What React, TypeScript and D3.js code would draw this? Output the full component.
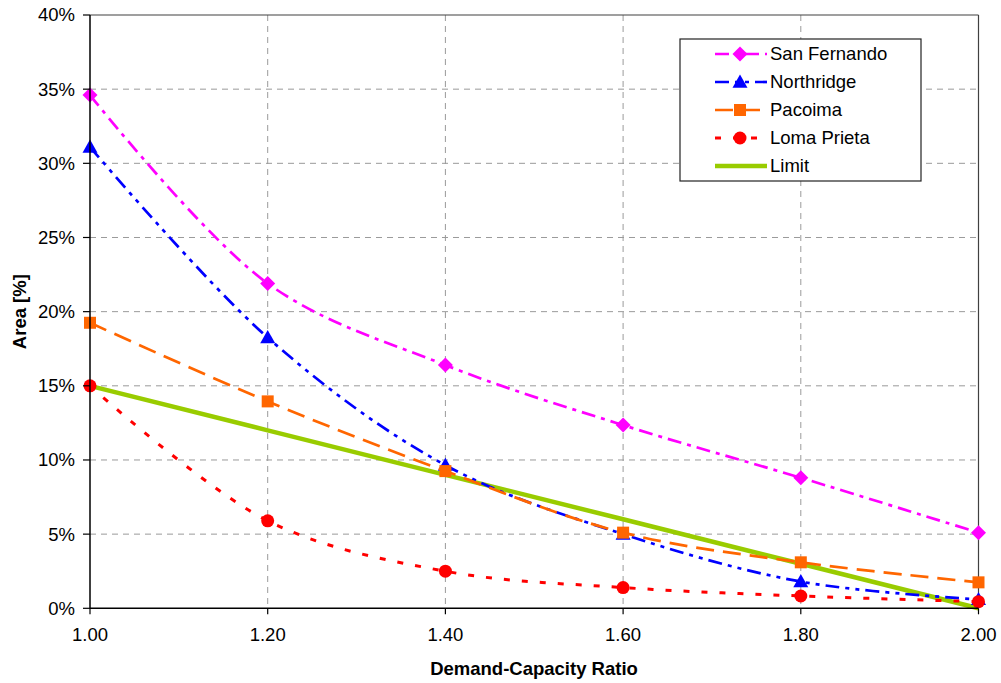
import React from "react";
import * as d3 from "d3";

const categories = [1.0, 1.2, 1.4, 1.6, 1.8, 2.0];
const xTickLabels = ["1.00", "1.20", "1.40", "1.60", "1.80", "2.00"];
const yTicks = [0, 5, 10, 15, 20, 25, 30, 35, 40];

const sanFernando = [34.6, 21.9, 16.4, 12.35, 8.8, 5.1];
const northridge = [31.1, 18.25, 9.65, 5.0, 1.8, 0.6];
const pacoima = [19.25, 13.95, 9.25, 5.1, 3.1, 1.75];
const lomaPrieta = [15.0, 5.9, 2.5, 1.4, 0.83, 0.45];
const limit = [15, 12, 9, 6, 3, 0];

type Marker = "diamond" | "triangle" | "square" | "circle" | "none";
interface Series {
  name: string;
  values: number[];
  color: string;
  dash: string;
  width: number;
  marker: Marker;
  smooth: boolean;
}

const series: Series[] = [
  { name: "San Fernando", values: sanFernando, color: "#FF00FF", dash: "14,6,4,6", width: 2.7, marker: "diamond", smooth: true },
  { name: "Northridge", values: northridge, color: "#0000FF", dash: "14,6,4,6,4,6", width: 2.7, marker: "triangle", smooth: true },
  { name: "Pacoima", values: pacoima, color: "#FF6600", dash: "18,9", width: 2.7, marker: "square", smooth: true },
  { name: "Loma Prieta", values: lomaPrieta, color: "#FF0000", dash: "6,12", width: 3, marker: "circle", smooth: true },
  { name: "Limit", values: limit, color: "#99CC00", dash: "", width: 4.5, marker: "none", smooth: false },
];

const drawOrder = ["Limit", "San Fernando", "Northridge", "Pacoima", "Loma Prieta"];

const W = 1001;
const H = 683;
const left = 90;
const right = 978.5;
const top = 15;
const bottom = 608.3;
const FONT = "Liberation Sans, Arial, sans-serif";
const FS = 18.5;

function MarkerShape({ type, x, y, color }: { type: Marker; x: number; y: number; color: string }) {
  if (type === "diamond") {
    const r = 7.5;
    return <path d={`M${x},${y - r}L${x + r},${y}L${x},${y + r}L${x - r},${y}Z`} fill={color} />;
  }
  if (type === "triangle") {
    const r = 7.5;
    return <path d={`M${x},${y - r}L${x + r},${y + r * 0.75}L${x - r},${y + r * 0.75}Z`} fill={color} />;
  }
  if (type === "square") {
    const s = 12;
    return <rect x={x - s / 2} y={y - s / 2} width={s} height={s} fill={color} />;
  }
  if (type === "circle") {
    return <circle cx={x} cy={y} r={6.5} fill={color} />;
  }
  return null;
}

export default function App() {
  const x = d3.scaleLinear().domain([1.0, 2.0]).range([left, right]);
  const y = d3.scaleLinear().domain([0, 40]).range([bottom, top]);

  const lineFor = (s: Series) =>
    d3
      .line<number>()
      .x((_, i) => x(categories[i]))
      .y((v) => y(v))
      .curve(s.smooth ? d3.curveCatmullRom.alpha(0.5) : d3.curveLinear)(s.values) || "";

  const ordered = drawOrder.map((n) => series.find((s) => s.name === n)!);

  const legendX = 680;
  const legendY = 39;
  const legendW = 241;
  const legendH = 142;
  const rowY = [54, 82, 110, 138, 166];

  return (
    <svg width={W} height={H} style={{ display: "block", position: "absolute", left: 0, top: 0 }} fontFamily={FONT}>
      <rect x={0} y={0} width={W} height={H} fill="#fff" />
      {yTicks.filter((t) => t > 0 && t < 40).map((t) => (
        <line key={"gy" + t} x1={left} x2={right} y1={y(t)} y2={y(t)} stroke="#9a9a9a" strokeWidth={1} strokeDasharray="6,5" />
      ))}
      {categories.slice(1, -1).map((c) => (
        <line key={"gx" + c} x1={x(c)} x2={x(c)} y1={top} y2={bottom} stroke="#9a9a9a" strokeWidth={1} strokeDasharray="6,5" />
      ))}
      <line x1={left} x2={right} y1={top} y2={top} stroke="#404040" strokeWidth={1.2} />
      <line x1={right} x2={right} y1={top} y2={bottom} stroke="#404040" strokeWidth={1.2} />

      {ordered.map((s) => (
        <g key={s.name}>
          <path d={lineFor(s)} fill="none" stroke={s.color} strokeWidth={s.width} strokeDasharray={s.dash || undefined} strokeLinejoin="round" />
          {s.values.map((v, i) => (
            <MarkerShape key={i} type={s.marker} x={x(categories[i])} y={y(v)} color={s.color} />
          ))}
        </g>
      ))}

      <line x1={left} x2={left} y1={top} y2={bottom} stroke="#000" strokeWidth={1.5} />
      <line x1={left} x2={right} y1={bottom} y2={bottom} stroke="#000" strokeWidth={1.5} />
      {yTicks.map((t) => (
        <g key={"yt" + t}>
          <line x1={left - 7} x2={left} y1={y(t)} y2={y(t)} stroke="#000" strokeWidth={1.2} />
          <text x={75} y={y(t)} dy="0.35em" textAnchor="end" fontSize={FS} fill="#000">
            {t + "%"}
          </text>
        </g>
      ))}
      {categories.map((c, i) => (
        <g key={"xt" + c}>
          <line x1={x(c)} x2={x(c)} y1={bottom} y2={bottom + 6} stroke="#000" strokeWidth={1.2} />
          <text x={x(c)} y={641} textAnchor="middle" fontSize={FS} fill="#000">
            {xTickLabels[i]}
          </text>
        </g>
      ))}
      <text x={534} y={675} textAnchor="middle" fontSize={FS} fontWeight="bold" fill="#000">
        Demand-Capacity Ratio
      </text>
      <text transform={`translate(26,${(top + bottom) / 2}) rotate(-90)`} textAnchor="middle" fontSize={FS} fontWeight="bold" fill="#000">
        Area [%]
      </text>

      <rect x={legendX} y={legendY} width={legendW} height={legendH} fill="#fff" stroke="#222" strokeWidth={1.2} />
      {series.map((s, i) => (
        <g key={"lg" + s.name}>
          <line x1={715} x2={767} y1={rowY[i]} y2={rowY[i]} stroke={s.color} strokeWidth={s.width} strokeDasharray={s.dash || undefined} />
          <MarkerShape type={s.marker} x={740} y={rowY[i]} color={s.color} />
          <text x={770} y={rowY[i]} dy="0.35em" fontSize={FS} fill="#000">
            {s.name}
          </text>
        </g>
      ))}
    </svg>
  );
}
